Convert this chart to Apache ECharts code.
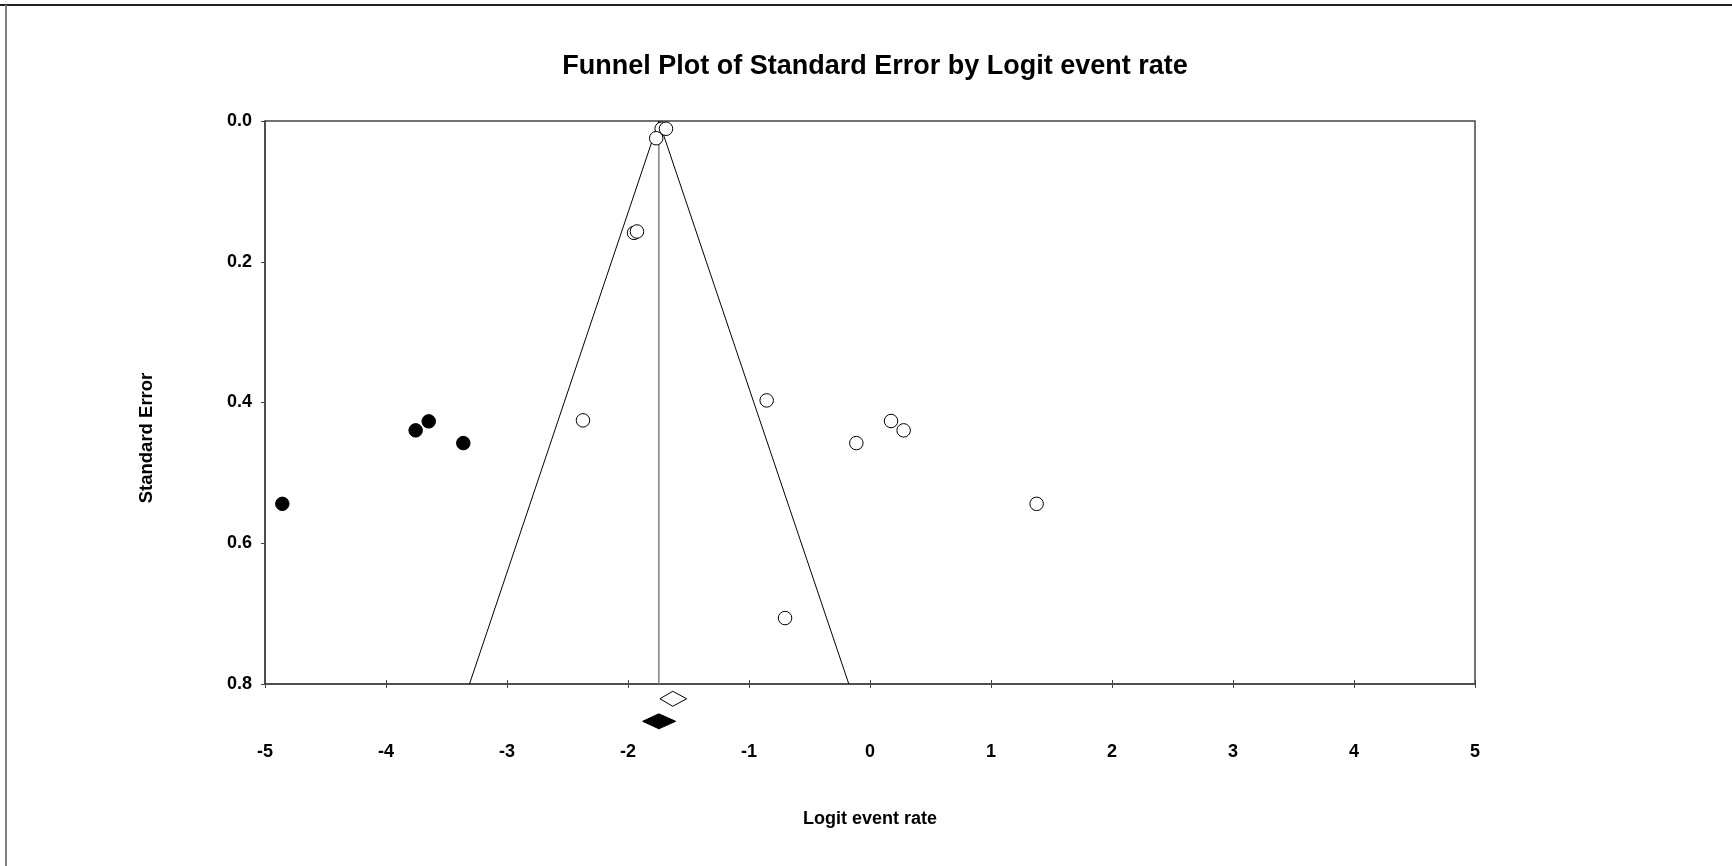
<!DOCTYPE html>
<html>
<head>
<meta charset="utf-8">
<script src="https://cdn.jsdelivr.net/npm/echarts@6/dist/echarts.min.js"></script>
<style>
html,body{margin:0;padding:0;background:#fff;}
#chart{width:1732px;height:866px;}
</style>
</head>
<body>
<div id="chart"></div>
<script>
// ---- Data ----
const titleText = "Funnel Plot of Standard Error by Logit event rate";
const xAxisName = "Logit event rate";
const yAxisName = "Standard Error";
const xTicks = { min: -5, max: 5, interval: 1 };
const yTicks = { min: 0, max: 0.8, interval: 0.2 };

// Observed studies (open circles)
const observedX = [-1.722, -1.686, -1.767, -1.950, -1.926, -2.372, -0.854, 0.174, 0.278, -0.113, 1.377, -0.702];
const observedSE = [0.011, 0.011, 0.0245, 0.159, 0.157, 0.4254, 0.397, 0.4263, 0.4396, 0.4577, 0.544, 0.7063];

// Imputed studies (filled circles)
const imputedX = [-4.857, -3.755, -3.647, -3.361];
const imputedSE = [0.544, 0.4396, 0.4268, 0.4577];

// Combined estimate line and funnel limits
const meanLineX = [-1.745, -1.745];
const meanLineSE = [0, 0.8];
const funnelX = [-3.31, -1.745, -0.175];
const funnelSE = [0.8, 0, 0.8];

// Summary diamonds: [lower, point, upper, row position]
const observedDiamond = [-1.736, -1.63, -1.515, 0.821];
const adjustedDiamond = [-1.879, -1.745, -1.606, 0.853];

// ---- Chart ----
const zip = (a, b) => a.map((v, i) => [v, b[i]]);
const FONT = '"Liberation Sans", Arial, sans-serif';
const AXIS_COLOR = '#444';

function diamondRender(fill) {
  return function (params, api) {
    const lo = api.coord([api.value(0), api.value(3)]);
    const mid = api.coord([api.value(1), api.value(3)]);
    const hi = api.coord([api.value(2), api.value(3)]);
    const h = 7.5;
    return {
      type: 'polygon',
      shape: { points: [[lo[0], mid[1]], [mid[0], mid[1] - h], [hi[0], mid[1]], [mid[0], mid[1] + h]] },
      style: { fill: fill, stroke: '#000', lineWidth: 1 }
    };
  };
}

const GRID_TOP = 121, GRID_BOTTOM = 182, CHART_H = 866;
const PLOT_H = CHART_H - GRID_TOP - GRID_BOTTOM;

const chart = echarts.init(document.getElementById('chart'), null, { renderer: 'canvas' });
chart.setOption({
  backgroundColor: '#fff',
  animation: false,
  title: {
    text: titleText,
    left: 870,
    textAlign: 'center',
    top: 48,
    textStyle: { fontFamily: FONT, fontWeight: 'bold', fontSize: 27, color: '#000' }
  },
  grid: {
    left: 265, right: 257, top: GRID_TOP, bottom: GRID_BOTTOM,
    show: true, borderColor: AXIS_COLOR, borderWidth: 1.5, backgroundColor: 'transparent'
  },
  xAxis: [{
    position: 'bottom',
    type: 'value', min: xTicks.min, max: xTicks.max, interval: xTicks.interval,
    splitLine: { show: false },
    axisLine: { show: true, onZero: false, lineStyle: { color: AXIS_COLOR, width: 1.5 } },
    axisTick: { show: true, inside: false, length: 4, lineStyle: { color: AXIS_COLOR } },
    axisLabel: { margin: 59, fontFamily: FONT, fontWeight: 'bold', fontSize: 18, color: '#000' },
    name: xAxisName, nameLocation: 'middle', nameGap: 126,
    nameTextStyle: { fontFamily: FONT, fontWeight: 'bold', fontSize: 18, color: '#000' }
  }, {
    // upward half of the crossing ticks on the bottom axis line
    position: 'top', offset: -PLOT_H,
    type: 'value', min: xTicks.min, max: xTicks.max, interval: xTicks.interval,
    splitLine: { show: false },
    axisLine: { show: false },
    axisTick: { show: true, inside: false, length: 4, lineStyle: { color: AXIS_COLOR } },
    axisLabel: { show: false }
  }],
  yAxis: {
    type: 'value', inverse: true, min: yTicks.min, max: yTicks.max, interval: yTicks.interval,
    splitLine: { show: false },
    axisLine: { show: true, onZero: false, lineStyle: { color: AXIS_COLOR, width: 1.5 } },
    axisTick: { show: true, inside: false, length: 4, lineStyle: { color: AXIS_COLOR } },
    axisLabel: { margin: 13, fontFamily: FONT, fontWeight: 'bold', fontSize: 18, color: '#000',
      formatter: v => v.toFixed(1) }
  },
  graphic: [
    { type: 'line', shape: { x1: 0, y1: 5, x2: 1732, y2: 5 }, style: { stroke: '#222', lineWidth: 2 }, z: 100 },
    { type: 'line', shape: { x1: 6, y1: 5, x2: 6, y2: 866 }, style: { stroke: '#808080', lineWidth: 2 }, z: 100 },
    { type: 'text', x: 147, y: 438, rotation: Math.PI / 2,
      style: { text: yAxisName, fontFamily: FONT, fontWeight: 'bold', fontSize: 18.5, fill: '#000',
        textAlign: 'center', textVerticalAlign: 'middle' } }
  ],
  series: [
    { type: 'line', data: zip(meanLineX, meanLineSE), symbol: 'none',
      lineStyle: { color: '#808080', width: 1.5 }, z: 1 },
    { type: 'line', data: zip(funnelX, funnelSE), symbol: 'none',
      lineStyle: { color: '#000', width: 1 }, z: 1 },
    { type: 'scatter', data: zip(observedX, observedSE), symbol: 'circle', symbolSize: 13.5,
      itemStyle: { color: '#fff', borderColor: '#000', borderWidth: 1, opacity: 1 }, z: 3 },
    { type: 'scatter', data: zip(imputedX, imputedSE), symbol: 'circle', symbolSize: 13.5,
      itemStyle: { color: '#000', borderColor: '#000', borderWidth: 1, opacity: 1 }, z: 3 },
    { type: 'custom', clip: false, data: [observedDiamond], renderItem: diamondRender('#fff'), z: 3 },
    { type: 'custom', clip: false, data: [adjustedDiamond], renderItem: diamondRender('#000'), z: 3 }
  ]
});
</script>
</body>
</html>
